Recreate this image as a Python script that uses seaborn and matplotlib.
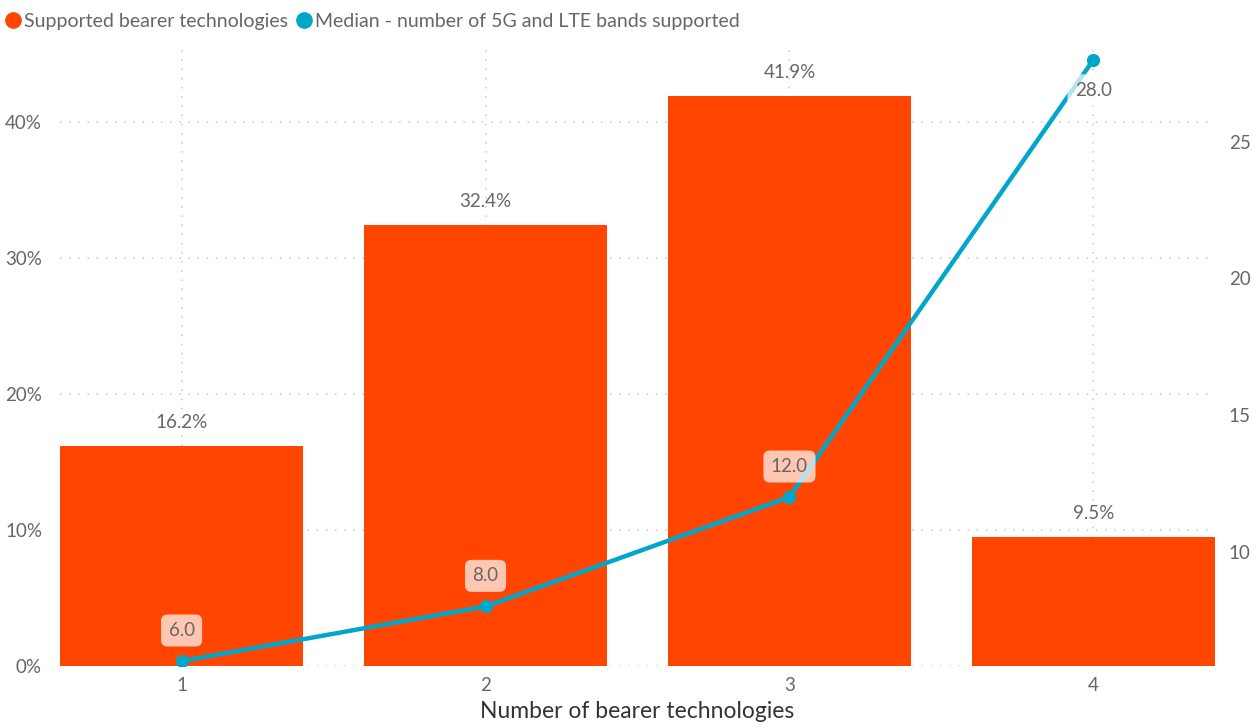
import matplotlib
matplotlib.use("Agg")
import matplotlib.pyplot as plt
from matplotlib.lines import Line2D
import seaborn as sns
import pandas as pd

# Data
categories = ["1", "2", "3", "4"]
share_pct = [16.2, 32.4, 41.9, 9.5]
median_bands = [6.0, 8.0, 12.0, 28.0]
left_ticks = [0, 10, 20, 30, 40]
right_ticks = [10, 15, 20, 25]

BAR_COLOR = "#FF4500"
LINE_COLOR = "#01A6CB"
TEXT_COLOR = "#666666"
GRID_COLOR = "#C8C8C8"

sns.set_theme(style="white")
plt.rcParams["font.family"] = ["Lato", "DejaVu Sans"]

df = pd.DataFrame({"tech": categories, "share": share_pct, "median": median_bands})

fig = plt.figure(figsize=(12.58, 7.22), dpi=100)
ax = fig.add_axes([60 / 1258, 56 / 722, 1155 / 1258, 621 / 722])

sns.barplot(data=df, x="tech", y="share", color=BAR_COLOR, saturation=1,
            width=0.8, linewidth=0, ax=ax, zorder=2)
ax.set_xlim(-0.4, 3.4)
ax.set_ylim(0, 45.66)
ax.set_yticks(left_ticks)
ax.set_yticklabels([f"{t}%" for t in left_ticks])

# dotted grid: horizontal at value ticks, vertical at categories
ax.grid(True, axis="both", color=GRID_COLOR, linestyle=(0, (1, 5)), linewidth=1.1)
ax.set_axisbelow(True)
for s in ax.spines.values():
    s.set_visible(False)
ax.tick_params(axis="both", length=0, labelsize=13.5, colors=TEXT_COLOR)
ax.tick_params(axis="y", pad=13)
ax.tick_params(axis="x", pad=8)
ax.set_ylabel("")
ax.set_xlabel("Number of bearer technologies", fontsize=16.5, color="#333333", labelpad=5)

for i, v in enumerate(share_pct):
    ax.annotate(f"{v:.1f}%", (i, v), xytext=(0, 17), textcoords="offset points",
                ha="center", va="center", fontsize=13.5, color=TEXT_COLOR)

ax2 = ax.twinx()
sns.lineplot(data=df, x="tech", y="median", color=LINE_COLOR, linewidth=3.2,
             marker="o", markersize=9.5, markeredgewidth=0, ax=ax2, zorder=3)
ax2.set_ylim(5.82, 28.54)
ax2.set_yticks(right_ticks)
ax2.set_ylabel("")
ax2.grid(False)
for s in ax2.spines.values():
    s.set_visible(False)
ax2.tick_params(axis="y", length=0, labelsize=13.5, colors=TEXT_COLOR, pad=10)

box = dict(boxstyle="round,pad=0.4,rounding_size=0.35", fc="white", ec="none", alpha=0.7)
for i, v in enumerate(median_bands):
    dy = -22 if v == max(median_bands) else 22
    ax2.annotate(f"{v:.1f}", (i, v), xytext=(0, dy), textcoords="offset points",
                 ha="center", va="center", fontsize=13.5, color=TEXT_COLOR,
                 bbox=box, zorder=5)

handles = [
    Line2D([], [], marker="o", linestyle="none", markersize=11, color=BAR_COLOR),
    Line2D([], [], marker="o", linestyle="none", markersize=11, color=LINE_COLOR),
]
fig.legend(handles, ["Supported bearer technologies",
                     "Median - number of 5G and LTE bands supported"],
           loc="upper left", bbox_to_anchor=(-0.008, 1.0), ncol=2, frameon=False,
           fontsize=14, labelcolor=TEXT_COLOR, handletextpad=0.0,
           columnspacing=0.3, borderaxespad=0.25, handlelength=1.1)

fig.savefig("out.png", dpi=100)
